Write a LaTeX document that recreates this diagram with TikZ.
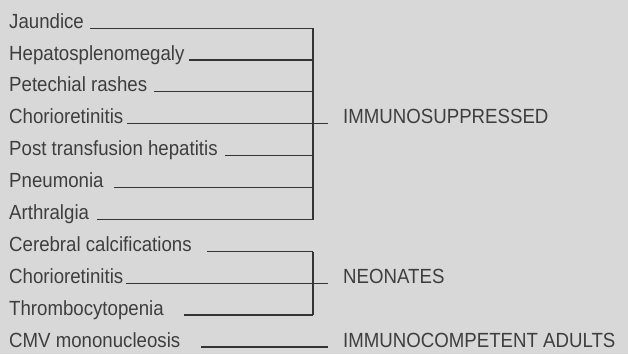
\documentclass[tikz,border=0pt]{standalone}
\usepackage{fontspec}
\setmainfont{Liberation Sans}[FakeStretch=0.91]
\definecolor{bg}{RGB}{216,216,216}
\definecolor{ink}{RGB}{52,52,52}
\definecolor{txt}{RGB}{62,62,62}
\begin{document}
\begin{tikzpicture}[x=1pt,y=-1pt,
  lbl/.style={anchor=base west, inner sep=0pt, font=\fontsize{20.5}{21}\selectfont, text=txt},
  conn/.style={draw=ink, line width=1.3pt}]
\fill[bg] (0,0) rectangle (628,354);
\useasboundingbox (0,0) rectangle (628,354);
% symptoms
\node[lbl] (s1)  at (9,28.3)  {Jaundice};
\node[lbl] (s2)  at (9,60)    {Hepatosplenomegaly};
\node[lbl] (s3)  at (9,91.5)  {Petechial rashes};
\node[lbl] (s4)  at (9,123.5) {Chorioretinitis};
\node[lbl] (s5)  at (9,155.5) {Post transfusion hepatitis};
\node[lbl] (s6)  at (9,187.5) {Pneumonia};
\node[lbl] (s7)  at (9,219.5) {Arthralgia};
\node[lbl] (s8)  at (9,251.5) {Cerebral calcifications};
\node[lbl] (s9)  at (9,283.5) {Chorioretinitis};
\node[lbl] (s10) at (9,315)   {Thrombocytopenia};
\node[lbl] (s11) at (9,347)   {CMV mononucleosis};
% groups
\node[lbl] (g1) at (343,123.5) {IMMUNOSUPPRESSED};
\node[lbl] (g2) at (343,283.5) {NEONATES};
\node[lbl] (g3) at (343,347)   {IMMUNOCOMPETENT ADULTS};
\coordinate (b) at (313,0);
% immunosuppressed
\draw[conn] ([xshift=6pt]s1.base east) -- (s1.base -| b);
\draw[conn] ([xshift=4pt]s2.base east) -- (s2.base -| b);
\draw[conn] ([xshift=7pt]s3.base east) -- (s3.base -| b);
\draw[conn] ([xshift=4pt]s4.base east) -- ([xshift=-15pt]g1.base west);
\draw[conn] ([xshift=7pt]s5.base east) -- (s5.base -| b);
\draw[conn] ([xshift=10pt]s6.base east) -- (s6.base -| b);
\draw[conn] ([xshift=8pt]s7.base east) -- (s7.base -| b);
\draw[conn] (s1.base -| b) -- (s7.base -| b);
% neonates
\draw[conn] ([xshift=15pt]s8.base east) -- (s8.base -| b);
\draw[conn] ([xshift=3pt]s9.base east) -- ([xshift=-15pt]g2.base west);
\draw[conn] ([xshift=20pt]s10.base east) -- (s10.base -| b);
\draw[conn] (s8.base -| b) -- (s10.base -| b);
% adults
\draw[conn] ([xshift=21pt]s11.base east) -- ([xshift=-15pt]g3.base west);
\end{tikzpicture}
\end{document}
